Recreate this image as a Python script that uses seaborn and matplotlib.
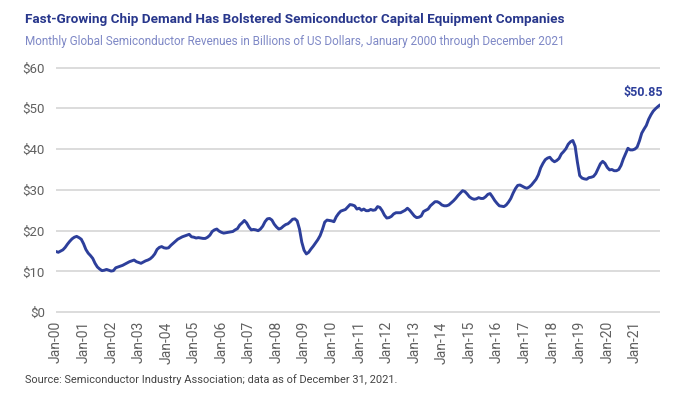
import numpy as np
import pandas as pd
import matplotlib
matplotlib.use("Agg")
import matplotlib.pyplot as plt
import seaborn as sns

# Monthly global semiconductor revenues, $bn, one list per year
rev_2000 = [14.9, 14.7, 15.0, 15.3, 15.9, 16.7, 17.4, 18.0, 18.4, 18.6, 18.3, 17.9]
rev_2001 = [16.8, 15.4, 14.5, 13.9, 13.2, 12.0, 11.1, 10.6, 10.2, 10.3, 10.5, 10.3]
rev_2002 = [10.1, 10.2, 10.9, 11.1, 11.3, 11.5, 11.8, 12.1, 12.4, 12.6, 12.8, 12.4]
rev_2003 = [12.2, 12.0, 12.3, 12.6, 12.8, 13.1, 13.6, 14.3, 15.4, 15.9, 16.1, 15.8]
rev_2004 = [15.7, 15.8, 16.4, 16.9, 17.4, 17.9, 18.2, 18.5, 18.7, 18.9, 19.1, 18.5]
rev_2005 = [18.4, 18.2, 18.3, 18.2, 18.1, 18.1, 18.4, 18.9, 19.8, 20.2, 20.4, 19.9]
rev_2006 = [19.6, 19.4, 19.5, 19.6, 19.7, 19.8, 20.2, 20.5, 21.4, 21.9, 22.5, 21.9]
rev_2007 = [20.9, 20.2, 20.3, 20.2, 20.0, 20.4, 21.1, 22.2, 22.9, 23.0, 22.6, 21.6]
rev_2008 = [20.9, 20.4, 20.6, 21.1, 21.5, 21.7, 22.2, 22.8, 22.9, 22.4, 20.4, 17.2]
rev_2009 = [15.2, 14.3, 14.7, 15.5, 16.2, 17.0, 17.8, 18.8, 20.3, 22.1, 22.6, 22.5]
rev_2010 = [22.4, 22.2, 23.4, 24.2, 24.8, 25.0, 25.2, 25.8, 26.4, 26.3, 26.1, 25.3]
rev_2011 = [25.5, 25.0, 25.3, 24.9, 24.9, 25.2, 25.0, 25.1, 25.9, 25.7, 24.9, 23.8]
rev_2012 = [23.1, 23.2, 23.5, 24.1, 24.4, 24.4, 24.4, 24.7, 25.0, 25.5, 25.0, 24.3]
rev_2013 = [23.6, 23.2, 23.3, 23.6, 24.7, 25.0, 25.3, 26.1, 26.6, 27.1, 27.1, 26.8]
rev_2014 = [26.3, 26.1, 26.1, 26.3, 26.8, 27.3, 27.9, 28.6, 29.2, 29.8, 29.6, 29.0]
rev_2015 = [28.3, 27.9, 27.7, 27.8, 28.1, 27.9, 27.9, 28.3, 28.9, 29.1, 28.3, 27.4]
rev_2016 = [26.7, 26.1, 26.0, 25.9, 26.3, 27.0, 27.9, 29.2, 30.3, 31.1, 31.2, 30.9]
rev_2017 = [30.6, 30.4, 30.7, 31.2, 31.9, 32.6, 33.7, 35.4, 36.5, 37.4, 37.8, 38.0]
rev_2018 = [37.3, 36.9, 37.2, 37.7, 38.8, 39.4, 40.1, 41.2, 41.8, 42.1, 40.7, 36.8]
rev_2019 = [33.5, 32.9, 32.7, 32.6, 33.0, 33.1, 33.3, 34.0, 35.2, 36.4, 37.0, 36.5]
rev_2020 = [35.5, 34.9, 35.0, 34.7, 34.7, 35.0, 36.0, 37.6, 38.9, 40.2, 39.8, 39.8]
rev_2021 = [40.0, 40.5, 42.0, 43.9, 44.9, 45.8, 47.3, 48.4, 49.3, 49.9, 50.4, 50.85]

tick_labels = ["Jan-00", "Jan-01", "Jan-02", "Jan-03", "Jan-04", "Jan-05", "Jan-06",
               "Jan-07", "Jan-08", "Jan-09", "Jan-10", "Jan-11", "Jan-12", "Jan-13",
               "Jan-14", "Jan-15", "Jan-16", "Jan-17", "Jan-18", "Jan-19", "Jan-20",
               "Jan-21"]
y_ticks = [0, 10, 20, 30, 40, 50, 60]
last_label = "$50.85"

years = [rev_2000, rev_2001, rev_2002, rev_2003, rev_2004, rev_2005, rev_2006,
         rev_2007, rev_2008, rev_2009, rev_2010, rev_2011, rev_2012, rev_2013,
         rev_2014, rev_2015, rev_2016, rev_2017, rev_2018, rev_2019, rev_2020,
         rev_2021]
values = np.concatenate(years)
df = pd.DataFrame({"month": np.arange(len(values)), "revenue": values})

LINE = "#2d3f9b"
TITLE = "#28378c"
SUB = "#7e88c6"
GRID = "#dcdcdc"
TXT = "#606060"

sns.set_theme(style="white")
plt.rcParams["font.family"] = ["Roboto", "DejaVu Sans"]

fig = plt.figure(figsize=(7, 3.94), dpi=100)
ax = fig.add_axes([0.08, 0.2023, 0.863, 0.6315])

sns.lineplot(data=df, x="month", y="revenue", ax=ax, color=LINE, linewidth=2.1)

ax.set_xlim(0, len(values) - 1)
ax.set_ylim(-0.5, 60.5)
ax.set_yticks(y_ticks)
ax.set_yticklabels([f"${v}" for v in y_ticks], color=TXT, fontsize=9.5)
ax.set_xticks([i * 12 for i in range(len(tick_labels))])
ax.set_xticklabels(tick_labels, rotation=90, color=TXT, fontsize=10)
ax.tick_params(axis="both", length=0, pad=8)
ax.tick_params(axis="x", pad=5)
ax.yaxis.grid(True, color=GRID, linewidth=1.4)
ax.xaxis.grid(False)
ax.set_xlabel("")
ax.set_ylabel("")
for s in ax.spines.values():
    s.set_visible(False)
ax.set_axisbelow(True)

# value label for the last month
ax.annotate(last_label, xy=(len(values) - 1, values[-1]), xytext=(2, 9),
            textcoords="offset points", ha="right", va="center",
            color=LINE, fontsize=9, fontweight="bold")

fig.text(25 / 700, 1 - 20 / 394, "Fast-Growing Chip Demand Has Bolstered Semiconductor Capital Equipment Companies",
         color=TITLE, fontsize=9.7, fontweight="bold", va="center", ha="left")
fig.text(25 / 700, 1 - 42 / 394, "Monthly Global Semiconductor Revenues in Billions of US Dollars, January 2000 through December 2021",
         color=SUB, fontsize=8.45, va="center", ha="left")
fig.text(25 / 700, 1 - 380 / 394, "Source: Semiconductor Industry Association; data as of December 31, 2021.",
         color="#444444", fontsize=7.9, va="center", ha="left")

fig.savefig("out.png", dpi=100, facecolor="white")
